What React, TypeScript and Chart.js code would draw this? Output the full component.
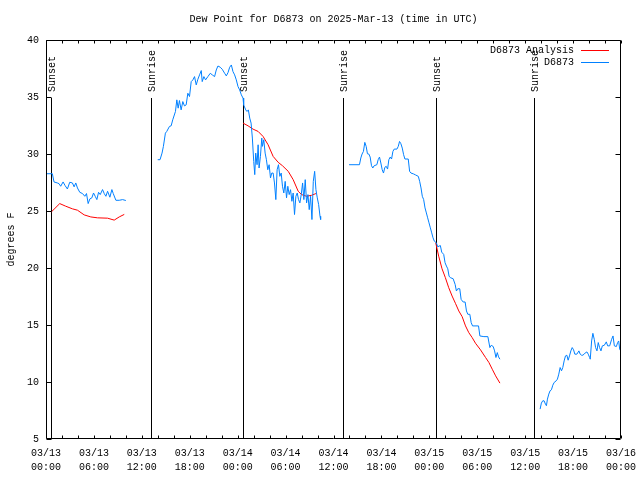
import React, { useEffect, useRef } from "react";
import { Chart, registerables } from "chart.js";

Chart.register(...registerables);

const TITLE = "Dew Point for D6873 on 2025-Mar-13 (time in UTC)";
const Y_TITLE = "degrees F";
const SERIES_ANALYSIS = "D6873 Analysis";
const SERIES_OBS = "D6873";

// x axis: hours since 03/13 00:00 UTC
const xTickHours = [0, 6, 12, 18, 24, 30, 36, 42, 48, 54, 60, 66, 72];
const xTickDates = ["03/13", "03/13", "03/13", "03/13", "03/14", "03/14", "03/14", "03/14", "03/15", "03/15", "03/15", "03/15", "03/16"];
const xTickTimes = ["00:00", "06:00", "12:00", "18:00", "00:00", "06:00", "12:00", "18:00", "00:00", "06:00", "12:00", "18:00", "00:00"];
const xMinorHours = [0, 2, 4, 6, 8, 10, 12, 14, 16, 18, 20, 22, 24, 26, 28, 30, 32, 34, 36, 38, 40, 42, 44, 46, 48, 50, 52, 54, 56, 58, 60, 62, 64, 66, 68, 70, 72];
const yTicks = [5, 10, 15, 20, 25, 30, 35, 40];

const eventHours = [0.63, 13.1, 24.67, 37.13, 48.8, 61.1];
const eventLabels = ["Sunset", "Sunrise", "Sunset", "Sunrise", "Sunset", "Sunrise"];

// observations (null = gap)
const obsHours = [
  0.0, 0.8, 1.0, 1.42, 1.63, 1.84, 2.14, 2.39, 2.68, 2.97, 3.31, 3.52, 3.73, 3.94, 4.23, 4.57, 4.86, 5.07, 5.28, 5.49, 5.74, 5.95, 6.16, 6.37, 6.58, 6.79, 7.08, 7.29, 7.5, 7.71, 8.0, 8.25, 8.42, 8.75, 9.17, 9.59, 10.0,
  12.0,
  13.99, 14.28, 14.53, 14.7, 14.95, 15.12, 15.46, 15.67, 15.87, 16.21, 16.38, 16.55, 16.71, 16.92, 17.13, 17.34, 17.55, 17.76, 17.97, 18.18, 18.39, 18.6, 18.81, 19.02, 19.23, 19.44, 19.56, 19.77, 19.98, 20.27, 20.57, 20.82, 21.11, 21.32, 21.53, 21.82, 22.07, 22.37, 22.58, 22.79, 23.0, 23.21, 23.41, 23.62, 23.83, 24.04, 24.25, 24.46, 24.67,
  24.75, 25.01, 25.17, 25.34, 25.51, 25.68, 25.84, 26.01, 26.14, 26.26, 26.43, 26.56, 26.68, 26.85, 27.02, 27.1, 27.27, 27.44, 27.6, 27.77, 27.94, 28.11, 28.27, 28.44, 28.61, 28.78, 28.94, 29.11, 29.28, 29.45, 29.61, 29.78, 29.95, 30.12, 30.28, 30.45, 30.62, 30.79, 30.95, 31.12, 31.29, 31.46, 31.62, 31.79, 31.96, 32.13, 32.29, 32.46, 32.63, 32.8, 32.96, 33.13, 33.3, 33.47, 33.64, 33.8, 33.97, 34.14, 34.31, 34.39,
  36.0,
  37.95, 39.25, 39.42, 39.58, 39.75, 39.92, 40.09, 40.25, 40.42, 40.59, 40.76, 40.92, 41.09, 41.43, 41.59, 41.76, 41.93, 42.1, 42.26, 42.43, 42.6, 42.77, 42.93, 43.1, 43.27, 43.44, 43.6, 43.94, 44.11, 44.27, 44.44, 44.61, 44.78, 44.94, 45.36, 45.53, 45.7, 46.03, 46.28, 46.62, 46.79, 46.96, 47.12, 47.29, 47.46, 47.63, 47.79, 47.96, 48.13, 48.3, 48.46, 48.63,
  48.88, 49.05, 49.22, 49.38, 49.55, 49.8, 49.97, 50.14, 50.31, 50.47, 50.64, 50.98, 51.23, 51.39, 51.56, 51.81, 51.98, 52.23, 52.48, 52.65, 52.82, 53.07, 53.24, 53.41, 54.16, 54.33, 54.83, 55.33, 55.58, 55.75, 56.0, 56.17, 56.34, 56.51, 56.67, 56.84,
  59.0,
  61.87, 62.03, 62.2, 62.37, 62.54, 62.66, 62.79, 62.96, 63.12, 63.29, 63.46, 63.63, 63.88, 64.04, 64.21, 64.38, 64.55, 64.71, 64.88, 65.05, 65.22, 65.38, 65.55, 65.72, 65.89, 66.06, 66.22, 66.47, 66.73, 66.89, 67.06, 67.23, 67.48, 67.73, 67.9, 68.07, 68.15, 68.32, 68.48, 68.65, 68.82, 68.99, 69.15, 69.32, 69.49, 69.66, 69.91, 70.16, 70.33, 70.58, 70.83, 71.0, 71.17, 71.42, 71.58, 71.71, 71.84, 71.96,
];
const obsDew = [
  28.27, 28.27, 27.55, 27.46, 27.4, 27.17, 27.55, 27.23, 26.93, 27.52, 27.46, 27.12, 27.46, 27.02, 26.64, 26.53, 26.29, 26.53, 25.65, 26.06, 26.15, 26.58, 26.29, 26.0, 26.64, 26.44, 26.88, 26.53, 26.29, 26.73, 26.21, 26.88, 26.53, 25.94, 25.94, 26.0, 25.92,
  null,
  29.5, 29.5, 30.08, 30.67, 31.83, 31.98, 32.42, 32.47, 33.0, 33.73, 34.75, 34.02, 34.69, 33.87, 34.6, 34.22, 34.31, 35.33, 35.04, 36.35, 36.5, 36.79, 36.06, 36.56, 36.94, 37.32, 36.35, 36.79, 36.5, 36.79, 37.08, 36.94, 36.79, 37.37, 37.72, 37.61, 37.43, 37.08, 36.85, 37.14, 37.61, 37.81, 37.23, 36.94, 36.5, 35.92, 35.62, 35.19, 34.9,
  34.31, 33.87, 33.73, 33.87, 33.15, 32.71, 31.4, 29.35, 28.19, 30.08, 29.06, 30.81, 28.77, 29.79, 31.4, 30.67, 31.25, 30.08, 29.5, 28.62, 29.06, 27.9, 28.33, 28.33, 27.46, 26.0, 28.62, 29.06, 28.04, 28.33, 27.17, 26.58, 27.6, 26.15, 27.17, 26.44, 26.87, 25.85, 26.58, 24.69, 26.29, 26.58, 26.0, 25.71, 26.44, 27.46, 26.0, 27.75, 25.71, 26.44, 25.12, 26.29, 24.25, 27.6, 28.48, 26.87, 26.15, 25.56, 24.54, 24.25,
  null,
  29.06, 29.06, 29.65, 30.0, 30.23, 31.02, 30.67, 30.02, 30.0, 29.73, 28.97, 28.77, 28.97, 29.06, 29.5, 29.73, 29.21, 28.62, 28.33, 28.83, 28.92, 28.68, 29.5, 29.73, 29.56, 30.23, 30.43, 30.43, 30.67, 31.1, 30.9, 30.52, 29.94, 29.56, 29.56, 28.48, 28.33, 28.25, 28.16, 28.04, 27.6, 27.02, 26.29, 26.0, 25.27, 24.83, 24.4, 23.96, 23.52, 23.08, 22.65, 22.35,
  22.21, 21.86, 21.92, 21.97, 21.39, 21.19, 20.46, 20.17, 19.93, 19.29, 19.15, 19.06, 18.56, 17.98, 18.18, 18.18, 17.25, 17.02, 17.02, 16.23, 15.94, 15.94, 15.21, 14.92, 14.92, 14.04, 13.98, 13.98, 13.02, 13.22, 13.11, 12.73, 12.15, 12.58, 12.2, 12.0,
  null,
  7.62, 8.15, 8.35, 8.35, 8.06, 7.92, 8.5, 8.94, 9.23, 9.32, 9.72, 9.96, 10.1, 10.25, 10.69, 11.27, 10.98, 11.27, 11.85, 12.29, 12.35, 11.91, 12.29, 12.73, 13.02, 12.82, 12.44, 12.44, 12.73, 12.44, 12.35, 12.35, 12.52, 12.64, 12.44, 12.15, 12.0, 13.6, 14.27, 13.75, 13.02, 12.73, 13.46, 13.02, 12.73, 13.17, 13.22, 13.52, 13.17, 13.17, 13.75, 14.04, 13.17, 13.11, 13.46, 13.6, 12.87, 12.73,
];

// analysis (null = gap)
const anaHours = [
  0.67, 1.72, 2.47, 3.31, 3.94, 4.78, 5.61, 6.45, 7.71, 8.54, 9.17, 9.8,
  12.0,
  24.67, 25.3, 25.93, 26.56, 27.18, 27.81, 28.44, 29.07, 29.61, 30.33, 30.95, 31.58, 32.0, 32.63, 33.26, 33.8,
  40.0,
  48.8, 49.17, 49.59, 50.01, 50.43, 50.85, 51.27, 51.69, 52.11, 52.53, 52.94, 53.36, 53.78, 54.41, 55.04, 55.46, 55.88, 56.3, 56.84,
];
const anaDew = [
  24.92, 25.65, 25.42, 25.19, 25.07, 24.66, 24.48, 24.4, 24.37, 24.2, 24.48, 24.7,
  null,
  32.71, 32.47, 32.18, 31.98, 31.54, 30.81, 29.79, 29.27, 28.97, 28.48, 27.75, 26.73, 26.44, 26.29, 26.38, 26.53,
  null,
  22.21, 21.04, 19.93, 19.15, 18.27, 17.54, 16.9, 16.23, 15.73, 14.92, 14.33, 13.9, 13.4, 12.82, 12.15, 11.71, 11.12, 10.54, 9.9,
];

const OBS_COLOR = "#0080ff";
const ANA_COLOR = "#ff0000";
const FONT_FAMILY = "'Liberation Mono', 'DejaVu Sans Mono', monospace";
const FONT = "10px " + FONT_FAMILY;

const decorPlugin = {
  id: "decor",
  beforeDatasetsDraw(chart: any) {
    const { ctx, chartArea: a, scales } = chart;
    const x = scales.x;
    ctx.save();
    ctx.strokeStyle = "#000";
    ctx.lineWidth = 1;
    ctx.font = FONT;
    ctx.fillStyle = "#000";
    eventHours.forEach((h, i) => {
      const px = Math.round(x.getPixelForValue(h)) + 0.5;
      ctx.beginPath();
      ctx.moveTo(px, a.top + 58);
      ctx.lineTo(px, a.bottom);
      ctx.stroke();
      ctx.save();
      ctx.translate(px + 0.5, a.top + 52);
      ctx.rotate(-Math.PI / 2);
      ctx.textAlign = "left";
      ctx.textBaseline = "middle";
      ctx.fillText(eventLabels[i], 0, 0);
      ctx.restore();
    });
    ctx.restore();
  },
  afterDraw(chart: any) {
    const { ctx, chartArea: a, scales } = chart;
    const x = scales.x;
    const y = scales.y;
    const L = Math.round(a.left) + 0.5;
    const R = Math.round(a.right) - 0.5;
    const T = Math.round(a.top) + 0.5;
    const B = Math.round(a.bottom) - 0.5;
    ctx.save();
    ctx.strokeStyle = "#000";
    ctx.lineWidth = 1;
    ctx.beginPath();
    ctx.rect(L, T, R - L, B - T);
    ctx.stroke();
    // y ticks (both sides)
    ctx.beginPath();
    yTicks.forEach((v) => {
      const py = Math.round(y.getPixelForValue(v)) + 0.5;
      ctx.moveTo(L, py);
      ctx.lineTo(L + 5, py);
      ctx.moveTo(R, py);
      ctx.lineTo(R - 5, py);
    });
    // x ticks (top and bottom)
    xMinorHours.forEach((h) => {
      const px = Math.round(x.getPixelForValue(h)) + 0.5;
      ctx.moveTo(px, B);
      ctx.lineTo(px, B - 3);
      ctx.moveTo(px, T);
      ctx.lineTo(px, T + 3);
    });
    ctx.stroke();

    ctx.fillStyle = "#000";
    ctx.font = FONT;
    // title
    ctx.textAlign = "center";
    ctx.textBaseline = "middle";
    ctx.fillText(TITLE, (a.left + a.right) / 2, 19);
    // y title
    ctx.save();
    ctx.translate(11, (a.top + a.bottom) / 2);
    ctx.rotate(-Math.PI / 2);
    ctx.textAlign = "center";
    ctx.textBaseline = "middle";
    ctx.fillText(Y_TITLE, 0, 0);
    ctx.restore();
    // legend
    const items = [
      { label: SERIES_ANALYSIS, color: ANA_COLOR },
      { label: SERIES_OBS, color: OBS_COLOR },
    ];
    items.forEach((it, i) => {
      const ly = Math.round(a.top + 10 + i * 12) + 0.5;
      ctx.fillStyle = "#000";
      ctx.textAlign = "right";
      ctx.textBaseline = "middle";
      ctx.fillText(it.label, a.right - 47, ly);
      ctx.strokeStyle = it.color;
      ctx.beginPath();
      ctx.moveTo(a.right - 40, ly);
      ctx.lineTo(a.right - 12, ly);
      ctx.stroke();
    });
    ctx.restore();
  },
};

export default function App() {
  const ref = useRef<HTMLCanvasElement | null>(null);
  useEffect(() => {
    if (!ref.current) return;
    const obsData = obsHours.map((h, i) => ({ x: h, y: obsDew[i] }));
    const anaData = anaHours.map((h, i) => ({ x: h, y: anaDew[i] }));
    const chart = new Chart(ref.current, {
      type: "line",
      data: {
        datasets: [
          {
            label: SERIES_OBS,
            data: obsData as any,
            borderColor: OBS_COLOR,
            backgroundColor: OBS_COLOR,
            borderWidth: 1,
            pointRadius: 0,
            tension: 0,
            spanGaps: false,
          },
          {
            label: SERIES_ANALYSIS,
            data: anaData as any,
            borderColor: ANA_COLOR,
            backgroundColor: ANA_COLOR,
            borderWidth: 1,
            pointRadius: 0,
            tension: 0,
            spanGaps: false,
          },
        ],
      },
      options: {
        responsive: false,
        animation: false,
        devicePixelRatio: 1,
        layout: { padding: { left: 0, right: 19, top: 40, bottom: 0 } },
        plugins: {
          legend: { display: false },
          title: { display: false },
          tooltip: { enabled: false },
        },
        scales: {
          x: {
            type: "linear",
            min: 0,
            max: 72,
            grid: { display: false, drawTicks: false },
            border: { display: false },
            afterBuildTicks: (s: any) => {
              s.ticks = xTickHours.map((v) => ({ value: v }));
            },
            afterFit: (s: any) => {
              s.height = 41;
              s.paddingLeft = 0;
              s.paddingRight = 0;
            },
            ticks: {
              autoSkip: false,
              maxRotation: 0,
              minRotation: 0,
              padding: 7,
              color: "#000",
              font: { family: FONT_FAMILY, size: 10, lineHeight: 1.4 },
              callback: (_v: any, i: number) => [xTickDates[i], xTickTimes[i]],
            },
          },
          y: {
            type: "linear",
            min: 5,
            max: 40,
            grid: { display: false, drawTicks: false },
            border: { display: false },
            afterBuildTicks: (s: any) => {
              s.ticks = yTicks.map((v) => ({ value: v }));
            },
            afterFit: (s: any) => {
              s.width = 46;
              s.paddingTop = 0;
              s.paddingBottom = 0;
            },
            ticks: {
              padding: 7,
              color: "#000",
              font: { family: FONT_FAMILY, size: 10 },
              callback: (v: any) => String(v),
            },
          },
        },
      },
      plugins: [decorPlugin],
    });
    return () => chart.destroy();
  }, []);
  return (
    <div style={{ position: "absolute", left: 0, top: 0, width: 640, height: 480, background: "#fff" }}>
      <canvas ref={ref} width={640} height={480} />
    </div>
  );
}
